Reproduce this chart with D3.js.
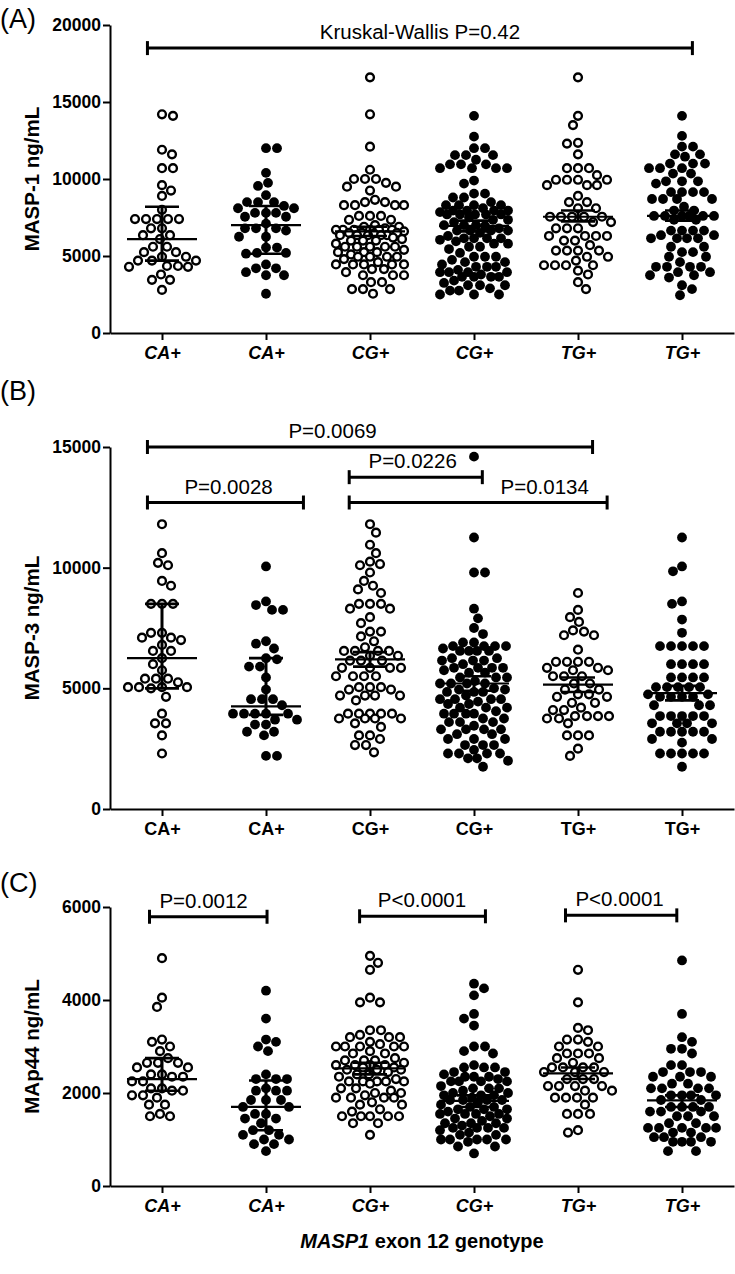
<!DOCTYPE html>
<html><head><meta charset="utf-8">
<script src="https://cdn.jsdelivr.net/npm/d3@7"></script>
<style>body{margin:0;background:#fff}svg{display:block}text{font-family:"Liberation Sans",Arial,sans-serif}</style>
</head><body>
<script>
// ---------- data ----------
const categories = ["CA+","CA+","CG+","CG+","TG+","TG+"];
const openGroup = [true,false,true,false,true,false];

// Panel A: MASP-1
const A1 = [14200,14100,11900,11600,10700,10700,9600,9250,8900,8000,7400,7400,7400,7400,7400,6800,6800,6350,6350,6100,5600,5600,5250,5250,4950,4950,4700,4700,4700,4350,4350,4300,4300,3800,3450,3450,2800];
const A2 = [12000,12000,10400,9750,9550,8950,8500,8500,8500,8250,8100,8100,7800,7800,7800,7550,7550,7100,6800,6800,6800,6650,6250,6250,5550,5550,5200,5200,5150,4450,4200,4200,3950,3750,3750,2550];
const A3 = [16600,14200,12100,10600,10000,10000,10000,9750,9500,9500,9250,8650,8500,8500,8300,8300,8300,8300,7600,7600,7600,7350,7350,7000,6900,6900,6800,6700,6700,6700,6700,6700,6700,6600,6500,6500,6500,6450,6350,6350,6350,6350,6350,6200,6100,6000,6000,6000,5800,5600,5600,5600,5600,5600,5400,5250,5250,5250,5100,4950,4950,4950,4950,4800,4600,4450,4450,4450,4450,4450,4150,4150,3950,3750,3750,3750,3300,3300,2850,2850,2850,2550];
const A4 = [14100,12750,12000,12000,11550,11550,11550,11250,10950,10950,10950,10700,10700,10700,10700,9900,9700,9050,9050,8800,8800,8500,8300,8300,8300,8300,8100,7950,7950,7950,7950,7850,7700,7700,7700,7700,7700,7500,7350,7350,7200,7000,7000,7000,6950,6800,6650,6650,6650,6650,6500,6300,6150,6150,6150,6150,6050,5950,5800,5800,5600,5600,5450,5200,4950,4950,4950,4750,4600,4600,4450,4300,4300,4300,4100,3950,3950,3950,3950,3800,3650,3650,3650,3650,3400,3250,3100,3100,3100,2900,2750,2750,2500,2500,2500];
const A5 = [16600,14100,13500,12350,12300,11600,10700,10700,10700,10250,9950,9950,9950,9950,9600,9600,9600,8900,8500,8500,8100,8100,7550,7550,7550,7550,7550,7200,7200,6800,6800,6800,6300,6300,6300,6300,6000,6000,5700,5350,5350,5350,5350,4950,4950,4700,4400,4400,4400,4400,4050,3800,3300,2850];
const A6 = [14100,12800,12100,12100,11600,11600,11450,11000,11000,11000,10700,10700,10700,10350,10350,9850,9850,9850,9700,9150,9150,9150,9150,8700,8700,8700,8700,8200,7950,7950,7600,7600,7600,7600,7600,7600,7350,7350,6650,6650,6650,6650,6350,6350,6150,6150,6150,6150,5600,5600,5250,5250,4950,4950,4600,4300,4300,4300,4300,3950,3950,3750,3750,3600,3100,2850,2450];
const A_med = [6100,7000,6600,6950,7550,7600];
const A_lo  = [4700,5150,6300,6600,7250,7300];
const A_hi  = [8200,8250,6900,7300,7950,7950];
const A_ticks = [0,5000,10000,15000,20000];

// Panel B: MASP-3
const B1 = [11800,10600,10200,10100,9450,9250,8500,8500,8500,7300,7300,7100,7100,7000,6800,6550,6550,6250,6000,5750,5400,5400,5400,5250,5050,5050,5050,5050,5000,4650,3950,3550,3550,3050,2300];
const B2 = [10050,8600,8450,8250,8250,6950,6850,6650,6250,6200,5900,5900,5450,4950,4550,4550,4550,4300,3950,3950,3950,3950,3950,3700,3700,3500,3500,3200,3200,3050,2200,2200];
const B3 = [11800,11450,10950,10600,10250,10150,10100,9800,9450,9250,9100,8950,8500,8500,8500,8300,8300,7950,7700,7350,7350,7150,6950,6700,6550,6550,6550,6550,6350,6350,6150,6150,6150,5850,5850,5850,5850,5500,5500,5500,5500,5050,5050,5050,4950,4950,4700,4700,4700,4700,4500,3950,3950,3950,3950,3950,3750,3750,3750,3750,3550,3400,3050,3050,2900,2650,2650,2350];
const B4 = [14600,11250,9800,9800,8300,7900,7500,7250,6900,6900,6750,6750,6750,6750,6650,6550,6550,6550,6550,6250,6250,6150,6150,6150,6000,5850,5850,5850,5850,5750,5650,5650,5450,5450,5450,5300,5200,5200,5200,5200,5000,4950,4950,4850,4850,4850,4700,4550,4550,4550,4550,4450,4350,4350,4200,4200,4200,4050,3950,3950,3950,3950,3750,3750,3600,3600,3600,3450,3300,3300,3300,3300,3100,3100,2900,2900,2900,2650,2650,2650,2450,2300,2300,2300,2300,2100,2100,2000,1750];
const B5 = [8950,8250,7950,7750,7400,7350,7200,7200,6600,6100,6100,6100,6100,5850,5850,5750,5750,5500,5500,5500,5200,5200,4950,4950,4750,4750,4650,4650,4400,4400,4200,4100,4100,3850,3850,3850,3850,3750,3750,3550,3050,3050,3050,2500,2200];
const B6 = [11250,10050,9850,8600,8500,7850,7300,6750,6750,6750,6750,6750,6000,6000,6000,6000,5450,5450,5450,5450,5050,5050,5050,5050,5050,4750,4750,4650,4650,4650,4650,4300,4300,4300,3850,3850,3850,3850,3850,3550,3550,3550,3550,3200,3200,3200,3200,3200,2900,2900,2750,2300,2300,2300,2300,2300,1750];
const B_med = [6250,4250,6200,5200,5150,4800];
const B_lo  = [5000,3900,5900,4900,4850,4500];
const B_hi  = [8500,6250,6500,5500,5450,5100];
const B_ticks = [0,5000,10000,15000];

// Panel C: MAp44
const C1 = [4900,4050,3850,3150,3100,3000,2900,2750,2650,2650,2650,2550,2550,2400,2400,2350,2350,2250,2250,2100,2100,2050,2050,1950,1950,1900,1750,1750,1550,1500,1500];
const C2 = [4200,3600,3150,3100,3000,2900,2400,2300,2300,2300,2100,2050,2050,2050,1850,1850,1850,1700,1700,1550,1550,1450,1450,1350,1200,1200,1100,1100,1000,1000,900,900,750];
const C3 = [4950,4800,4650,4050,3950,3950,3350,3350,3250,3200,3200,3200,3100,3050,3000,3000,3000,3000,3000,2900,2850,2850,2750,2700,2700,2700,2650,2600,2600,2600,2600,2550,2550,2500,2500,2500,2450,2400,2400,2350,2300,2250,2250,2250,2250,2250,2200,2100,2100,2050,2000,2000,1950,1900,1900,1900,1900,1800,1750,1750,1650,1600,1500,1500,1500,1500,1500,1350,1350,1100];
const C4 = [4350,4250,4100,3700,3600,3450,3000,3000,2900,2850,2600,2550,2550,2550,2450,2450,2400,2350,2350,2350,2300,2250,2250,2250,2250,2150,2100,2100,2100,2050,2000,2000,1950,1950,1950,1900,1850,1850,1850,1850,1800,1750,1700,1700,1650,1650,1650,1600,1550,1550,1550,1550,1500,1450,1450,1400,1350,1350,1350,1300,1250,1250,1250,1250,1200,1150,1100,1100,1000,1000,1000,1000,1000,950,850,850,700];
const C5 = [4650,3950,3400,3350,3150,3150,3100,3000,3000,2850,2850,2850,2750,2750,2650,2550,2550,2550,2550,2450,2450,2450,2300,2300,2300,2150,2150,2150,2150,2050,2050,1900,1900,1900,1900,1750,1550,1550,1550,1200,1150];
const C6 = [4850,3700,3200,3100,2950,2950,2850,2600,2600,2450,2450,2450,2350,2350,2350,2200,2200,2100,2100,2100,2100,1950,1950,1950,1950,1850,1850,1700,1700,1700,1700,1600,1600,1600,1500,1500,1500,1350,1350,1250,1250,1250,1250,1250,1150,1150,1050,1050,1050,950,950,950,950,750,750];
const C_med = [2300,1700,2530,1830,2420,1840];
const C_lo  = [2050,1200,2400,1700,2300,1700];
const C_hi  = [2750,2270,2650,1950,2550,1950];
const C_ticks = [0,2000,4000,6000];

// significance annotations: [fromGroup, toGroup, value level, label]
const A_sig = [[0,5,18500,"Kruskal-Wallis P=0.42"]];
const B_sig = [[0,4,15000,"P=0.0069"],[0,1,12700,"P=0.0028"],[2,3,13750,"P=0.0226"],[2,4,12700,"P=0.0134"]];
const C_sig = [[0,1,5790,"P=0.0012"],[2,3,5800,"P<0.0001"],[4,5,5820,"P<0.0001"]];

// ---------- layout / style ----------
const FONT = "'Liberation Sans',Arial,sans-serif";
const W = 735, H = 1274;
const svg = d3.select("body").append("svg").attr("width", W).attr("height", H);
const xs = d3.scalePoint().domain(d3.range(categories.length)).range([110, 734]).padding(0.5);
const step = xs.step();

function swarm(vals, y, cx, d, maxHalf) {
  const pts = [];
  const sorted = vals.slice().sort((a, b) => b - a);
  sorted.forEach((v, i) => {
    const py = y(v);
    const near = pts.filter(p => Math.abs(p.y - py) < d);
    let best = cx, bestScore = -1;
    const sgn = i % 2 ? 1 : -1;
    for (let k = 0; k <= 2 * maxHalf; k++) {
      const off = (k % 2 ? sgn : -sgn) * Math.ceil(k / 2);
      const px = cx + off;
      let minD = Infinity;
      near.forEach(p => { const dd = Math.hypot(p.x - px, p.y - py); if (dd < minD) minD = dd; });
      if (minD >= d) { best = px; bestScore = Infinity; break; }
      if (minD > bestScore + 0.5) { bestScore = minD; best = px; }
    }
    pts.push({x: best, y: py});
  });
  return pts;
}

function panel(cfg) {
  const g = svg.append("g");
  const y = d3.scaleLinear().domain(cfg.domain).range(cfg.range);
  g.append("text").attr("x", 0).attr("y", cfg.letterY).attr("font-size", 27).attr("font-family", FONT).text(cfg.letter);
  const ya = g.append("g").attr("transform", "translate(110,0)")
    .call(d3.axisLeft(y).tickValues(cfg.ticks).tickSize(7).tickSizeOuter(0).tickPadding(2).tickFormat(d3.format("d")));
  ya.select(".domain").attr("stroke-width", 2);
  ya.selectAll(".tick line").attr("stroke-width", 2);
  ya.selectAll(".tick text").attr("font-size", 17.5).attr("font-weight", "bold").attr("fill", "#000").attr("font-family", FONT);
  g.append("text").attr("transform", `translate(39,${(cfg.range[0] + cfg.range[1]) / 2}) rotate(-90)`)
    .attr("text-anchor", "middle").attr("font-size", 20.5).attr("font-weight", "bold").attr("font-family", FONT).text(cfg.ytitle);
  const xa = g.append("g").attr("transform", `translate(0,${cfg.range[0]})`)
    .call(d3.axisBottom(xs).tickSize(7).tickSizeOuter(0).tickPadding(6).tickFormat(i => categories[i]));
  xa.select(".domain").attr("stroke-width", 2);
  xa.selectAll(".tick line").attr("stroke-width", 2);
  xa.selectAll(".tick text").attr("font-size", 18).attr("font-weight", "bold").attr("fill", "#000")
    .attr("font-style", cfg.italic ? "italic" : "normal").attr("font-family", FONT);
  cfg.groups.forEach((vals, gi) => {
    const cx = xs(gi);
    const open = openGroup[gi];
    const pts = swarm(vals, y, cx, 10.2, 34);
    g.append("g").selectAll("circle").data(pts).join("circle")
      .attr("cx", d => d.x).attr("cy", d => d.y)
      .attr("r", open ? 3.9 : 4.9)
      .attr("fill", open ? "#fff" : "#000")
      .attr("stroke", open ? "#000" : "none")
      .attr("stroke-width", open ? 2.4 : 0);
  });
  cfg.med.forEach((m, gi) => {
    const cx = xs(gi);
    const eg = g.append("g").attr("stroke", "#000");
    eg.append("line").attr("x1", cx).attr("x2", cx).attr("y1", y(cfg.lo[gi])).attr("y2", y(cfg.hi[gi])).attr("stroke-width", 3);
    eg.append("line").attr("x1", cx - 35).attr("x2", cx + 35).attr("y1", y(m)).attr("y2", y(m)).attr("stroke-width", 2.2);
    [cfg.lo[gi], cfg.hi[gi]].forEach(v => {
      eg.append("line").attr("x1", cx - 17).attr("x2", cx + 17).attr("y1", y(v)).attr("y2", y(v)).attr("stroke-width", 2.6);
    });
  });
  cfg.sig.forEach((s, si) => {
    const off = cfg.sigOff[si];
    const x1 = xs(s[0]) + off[0] * step, x2 = xs(s[1]) + off[1] * step;
    const yy = y(s[2]);
    const bg = g.append("g").attr("stroke", "#000").attr("stroke-width", 3);
    bg.append("line").attr("x1", x1).attr("x2", x2).attr("y1", yy).attr("y2", yy);
    [x1, x2].forEach(xx => bg.append("line").attr("x1", xx).attr("x2", xx).attr("y1", yy - 7).attr("y2", yy + 7));
    g.append("text").attr("x", xs(0) + off[2] * step).attr("y", yy - 9).attr("text-anchor", "middle")
      .attr("font-size", 20.5).attr("font-family", FONT).text(s[3]);
  });
}

panel({letter: "(A)", letterY: 28, domain: [0, 20000], range: [333, 25], ticks: A_ticks, ytitle: "MASP-1 ng/mL",
  italic: true, groups: [A1, A2, A3, A4, A5, A6], med: A_med, lo: A_lo, hi: A_hi,
  sig: A_sig, sigOff: [[-0.14, 0.1, 2.48]]});
panel({letter: "(B)", letterY: 400, domain: [0, 15000], range: [809, 447], ticks: B_ticks, ytitle: "MASP-3 ng/mL",
  italic: false, groups: [B1, B2, B3, B4, B5, B6], med: B_med, lo: B_lo, hi: B_hi,
  sig: B_sig, sigOff: [[-0.14, 0.14, 1.64], [-0.14, 0.36, 0.64], [-0.2, 0.08, 2.41], [-0.2, 0.28, 3.68]]});
panel({letter: "(C)", letterY: 892, domain: [0, 6000], range: [1186, 907], ticks: C_ticks, ytitle: "MAp44 ng/mL",
  italic: true, groups: [C1, C2, C3, C4, C5, C6], med: C_med, lo: C_lo, hi: C_hi,
  sig: C_sig, sigOff: [[-0.12, 0.01, 0.4], [-0.1, 0.11, 2.5], [-0.12, -0.05, 4.4]]});

const xt = svg.append("text").attr("x", 422).attr("y", 1248).attr("text-anchor", "middle")
  .attr("font-size", 20).attr("font-weight", "bold").attr("font-family", FONT);
xt.append("tspan").attr("font-style", "italic").text("MASP1");
xt.append("tspan").text(" exon 12 genotype");
</script>
</body></html>
